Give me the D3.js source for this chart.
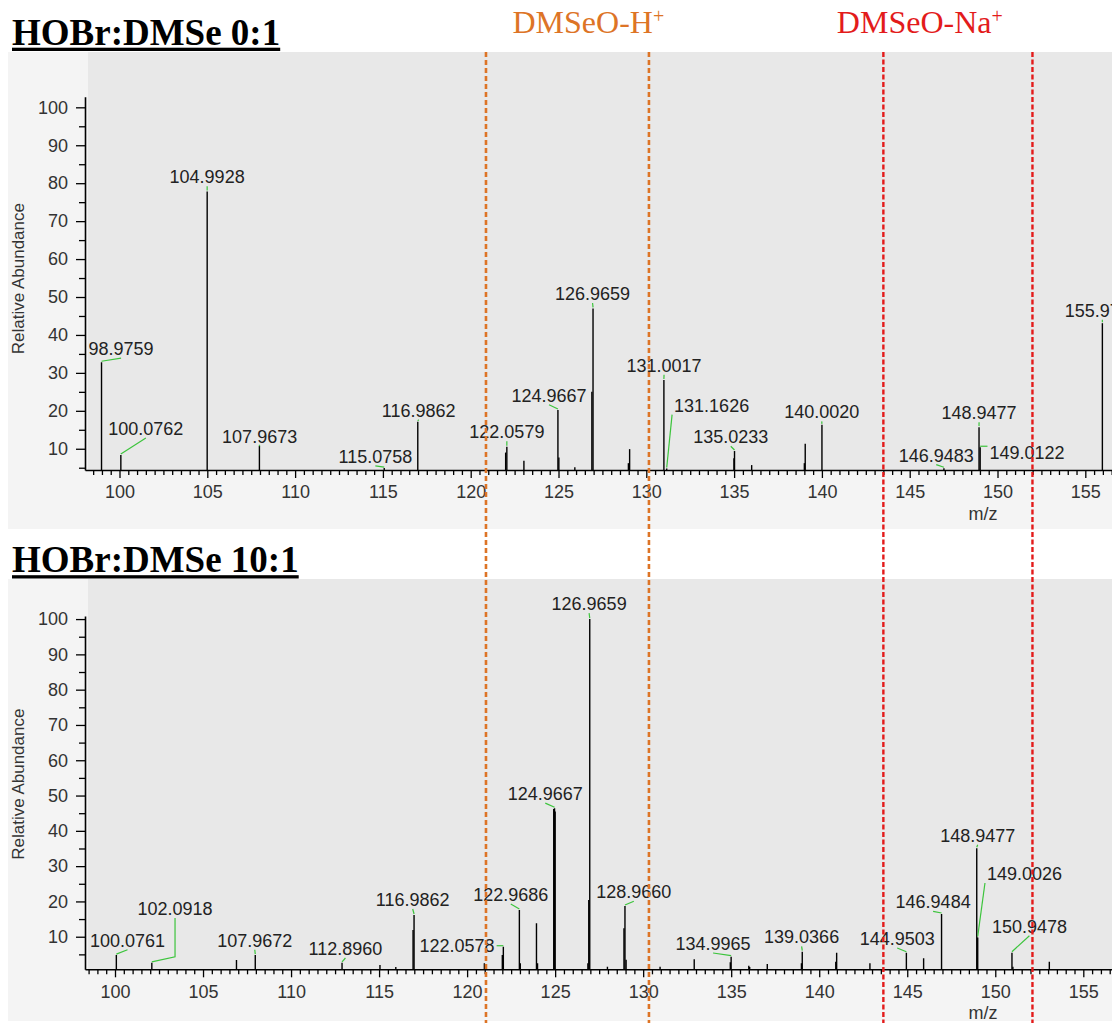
<!DOCTYPE html>
<html>
<head>
<meta charset="utf-8">
<script src="https://cdn.jsdelivr.net/npm/d3@7"></script>
<style>
  html, body { margin: 0; padding: 0; background: #fff; }
  svg { display: block; }
</style>
</head>
<body>
<svg id="fig" width="1112" height="1023"></svg>
<script>
// ---------- data ----------
// Panel titles
const titleLow = "HOBr:DMSe 0:1";
const titleHigh = "HOBr:DMSe 10:1";

// Ion windows (m/z) and their names
const windowH = [120.87, 130.15];
const windowNa = [143.50, 151.99];
const windowHName = "DMSeO-H";
const windowNaName = "DMSeO-Na";

// Axis ticks
const yMajorTicks = [10, 20, 30, 40, 50, 60, 70, 80, 90, 100];
const yMinorTicks = [5, 15, 25, 35, 45, 55, 65, 75, 85, 95];
const xMajorTicks = [100, 105, 110, 115, 120, 125, 130, 135, 140, 145, 150, 155];

// HOBr:DMSe 0:1 -- labelled centroids: m/z, relative abundance, label m/z, label abundance
const labelled01 = [
  { mz: 98.9759,  ab: 32.8, lx: 100.09, ly: 34.7 },
  { mz: 100.0762, ab: 8.35, lx: 101.50, ly: 13.6 },
  { mz: 104.9928, ab: 77.8, lx: 104.99, ly: 80.0 },
  { mz: 107.9673, ab: 10.8, lx: 107.98, ly: 11.45 },
  { mz: 115.0758, ab: 4.9,  lx: 114.57, ly: 6.3 },
  { mz: 116.9862, ab: 17.1, lx: 117.04, ly: 18.45 },
  { mz: 122.0579, ab: 10.5, lx: 122.06, ly: 12.75 },
  { mz: 124.9667, ab: 20.2, lx: 124.46, ly: 22.4 },
  { mz: 126.9659, ab: 47.0, lx: 126.94, ly: 49.2 },
  { mz: 131.0017, ab: 28.1, lx: 131.01, ly: 30.3 },
  { mz: 131.1626, ab: 4.8,  lx: 133.72, ly: 19.8 },
  { mz: 135.0233, ab: 9.4,  lx: 134.81, ly: 11.45 },
  { mz: 140.0020, ab: 16.3, lx: 139.99, ly: 18.0 },
  { mz: 146.9483, ab: 4.85, lx: 146.51, ly: 6.6 },
  { mz: 148.9477, ab: 15.7, lx: 148.95, ly: 17.8 },
  { mz: 149.0122, ab: 10.4, lx: 151.68, ly: 7.3 },
  { mz: 155.9717, ab: 43.1, lx: 155.97, ly: 44.8 }
];
// HOBr:DMSe 0:1 -- unlabelled centroids [m/z, relative abundance]
const other01 = [
  [121.99, 9.0], [123.03, 6.85], [125.02, 7.7], [125.93, 5.1], [126.90, 25.0],
  [128.98, 6.2], [129.05, 9.9], [134.99, 7.5], [136.00, 5.7], [139.00, 6.2], [139.05, 11.3]
];

// HOBr:DMSe 10:1 -- labelled centroids
const labelled101 = [
  { mz: 100.0761, ab: 4.8,   lx: 100.71, ly: 7.17 },
  { mz: 102.0918, ab: 2.6,   lx: 103.41, ly: 16.15 },
  { mz: 107.9672, ab: 4.8,   lx: 107.94, ly: 7.17 },
  { mz: 112.8960, ab: 2.6,   lx: 113.09, ly: 4.82 },
  { mz: 116.9862, ab: 16.15, lx: 116.91, ly: 18.7 },
  { mz: 122.0578, ab: 7.17,  lx: 119.43, ly: 5.76 },
  { mz: 122.9686, ab: 17.6,  lx: 122.48, ly: 20.1 },
  { mz: 124.9667, ab: 46.4,  lx: 124.44, ly: 48.7 },
  { mz: 126.9659, ab: 100.0, lx: 126.93, ly: 102.55 },
  { mz: 128.9660, ab: 18.7,  lx: 129.47, ly: 20.9 },
  { mz: 134.9965, ab: 4.34,  lx: 133.97, ly: 6.24 },
  { mz: 139.0366, ab: 5.76,  lx: 139.00, ly: 8.13 },
  { mz: 144.9503, ab: 5.47,  lx: 144.43, ly: 7.65 },
  { mz: 146.9484, ab: 16.44, lx: 146.47, ly: 18.05 },
  { mz: 148.9477, ab: 35.05, lx: 149.00, ly: 36.9 },
  { mz: 149.0026, ab: 9.8,   lx: 151.66, ly: 26.07 },
  { mz: 150.9478, ab: 5.47,  lx: 151.94, ly: 11.14 }
];
// HOBr:DMSe 10:1 -- unlabelled centroids
const other101 = [
  [106.90, 3.4], [115.05, 2.0], [115.95, 1.4], [116.93, 11.9], [120.98, 2.5],
  [122.00, 4.8], [123.02, 2.5], [123.94, 13.8], [124.00, 2.5], [124.92, 46.2],
  [125.00, 45.5], [126.86, 2.5], [126.91, 20.4], [127.97, 1.5], [128.91, 12.4],
  [129.03, 3.5], [130.96, 1.5], [132.90, 3.6], [134.95, 2.8], [136.00, 1.8],
  [136.05, 1.4], [137.05, 2.3], [138.99, 2.5], [140.94, 2.9], [140.99, 5.47],
  [142.88, 2.5], [145.93, 3.9], [151.00, 1.5], [153.07, 2.9]
];

// ---------- drawing ----------
const svg = d3.select("#fig");
const SANS = "'Liberation Sans', Arial, sans-serif";
const SERIF = "'Liberation Serif', 'Times New Roman', serif";
const PLOT_LEFT = 85, PLOT_RIGHT = 1112;

const panels = [
  { title: titleLow, labelled: labelled01, other: other01,
    top: 52, bottom: 529, axisY: 470, yTop: 96.7, yDom: [4.4, 102.8],
    xDom: [98.035, 156.52], titleBase: 44.5 },
  { title: titleHigh, labelled: labelled101, other: other101,
    top: 579, bottom: 1021, axisY: 969.3, yTop: 615.9, yDom: [0.77, 100.9],
    xDom: [98.296, 156.63], titleBase: 572 }
];

let xFirst = null;

panels.forEach((p, i) => {
  const g = svg.append("g").attr("class", "panel");

  // panel backgrounds
  g.append("rect").attr("x", 8).attr("y", p.top).attr("width", 1104).attr("height", p.bottom - p.top)
    .attr("fill", "#f4f4f4");
  g.append("rect").attr("x", 88).attr("y", p.top).attr("width", 1024).attr("height", p.axisY - p.top)
    .attr("fill", "#e8e8e8");

  // title with underline
  const t = svg.append("text").attr("x", 12).attr("y", p.titleBase)
    .attr("font-family", SERIF).attr("font-weight", "bold").attr("font-size", 37)
    .attr("fill", "#000").text(p.title);
  const tw = t.node().getComputedTextLength();
  svg.append("rect").attr("x", 12).attr("y", p.titleBase + 3.2).attr("width", tw).attr("height", 3.3)
    .attr("fill", "#000");

  const x = d3.scaleLinear().domain(p.xDom).range([PLOT_LEFT, PLOT_RIGHT]);
  const y = d3.scaleLinear().domain(p.yDom).range([p.axisY, p.yTop]);
  if (i === 0) xFirst = x;

  const clipId = "clip" + i;
  svg.append("clipPath").attr("id", clipId).append("rect")
    .attr("x", PLOT_LEFT).attr("y", p.top).attr("width", PLOT_RIGHT - PLOT_LEFT).attr("height", p.axisY - p.top);

  // centroid sticks
  const sticks = p.labelled.map(d => [d.mz, d.ab]).concat(p.other);
  g.append("g").attr("clip-path", `url(#${clipId})`)
    .selectAll("line").data(sticks).join("line")
    .attr("x1", d => x(d[0])).attr("x2", d => x(d[0]))
    .attr("y1", y(p.yDom[0])).attr("y2", d => y(d[1]))
    .attr("stroke", "#000").attr("stroke-width", 1.4);

  // peak labels and leader lines
  const lab = g.append("g");
  p.labelled.forEach(d => {
    const cx = x(d.lx), by = y(d.ly);
    const txt = lab.append("text").attr("x", cx).attr("y", by)
      .attr("text-anchor", "middle").attr("font-family", SANS).attr("font-size", 18)
      .attr("fill", "#222").text(d.mz.toFixed(4));
    const w = txt.node().getComputedTextLength();
    const left = cx - w / 2, right = cx + w / 2;
    const px = x(d.mz), py = y(d.ab) - 1;
    const pts = [[px, py]];
    if (px >= left && px <= right) {
      // label sits over the peak: lead to the middle of its underside
      const ey = by + 3;
      if (py - ey > 30 && Math.abs(cx - px) > 10) pts.push([cx, py - 5]);
      pts.push([cx, ey]);
    } else {
      // label beside the peak: lead to the nearest point of its box
      pts.push([Math.max(left - 2, Math.min(right + 2, px)),
                Math.max(by - 15, Math.min(by + 3, py))]);
    }
    lab.append("path").attr("d", d3.line()(pts)).attr("fill", "none")
      .attr("stroke", "#3cc43c").attr("stroke-width", 1.2);
  });

  // x axis: major ticks with labels, then minor ticks
  const gx = g.append("g").attr("transform", `translate(0,${p.axisY})`)
    .call(d3.axisBottom(x).tickValues(xMajorTicks).tickSize(8).tickSizeOuter(0).tickPadding(7.5));
  const minorX = d3.range(98.5, 156.6, 0.5).filter(v => v % 5 !== 0 && v > p.xDom[0] && v < p.xDom[1]);
  const gxm = g.append("g").attr("transform", `translate(0,${p.axisY})`)
    .call(d3.axisBottom(x).tickValues(minorX).tickSize(5).tickFormat(""));
  gxm.select(".domain").remove();

  // y axis: major ticks with labels, then minor ticks
  const gy = g.append("g").attr("transform", `translate(${PLOT_LEFT},0)`)
    .call(d3.axisLeft(y).tickValues(yMajorTicks).tickSize(9).tickSizeOuter(0).tickPadding(8));
  const gym = g.append("g").attr("transform", `translate(${PLOT_LEFT},0)`)
    .call(d3.axisLeft(y).tickValues(yMinorTicks).tickSize(6).tickFormat(""));
  gym.select(".domain").remove();

  [gx, gxm, gy, gym].forEach(a => {
    a.attr("font-family", SANS).attr("font-size", 18);
    a.selectAll(".domain").attr("stroke", "#000").attr("stroke-width", 1.6);
    a.selectAll(".tick line").attr("stroke", "#000").attr("stroke-width", 1.3);
    a.selectAll(".tick text").attr("fill", "#333");
  });

  // axis titles
  g.append("text").attr("transform", `translate(18,${(y(100) + p.axisY) / 2 - 10}) rotate(-90)`)
    .attr("text-anchor", "middle").attr("dominant-baseline", "central")
    .attr("font-family", SANS).attr("font-size", 17).attr("fill", "#333")
    .text("Relative Abundance");
  g.append("text").attr("x", 983).attr("y", p.axisY + 50)
    .attr("text-anchor", "middle").attr("font-family", SANS).attr("font-size", 18)
    .attr("fill", "#333").text("m/z");
});

// ion windows spanning both spectra
const winG = svg.append("g");
const drawWindow = (bounds, color, width, dash) => {
  winG.selectAll(null).data(bounds).join("line")
    .attr("x1", d => xFirst(d)).attr("x2", d => xFirst(d))
    .attr("y1", 52).attr("y2", 1023)
    .attr("stroke", color).attr("stroke-width", width).attr("stroke-dasharray", dash);
};
drawWindow(windowH, "#dd7426", 2.6, "5,3");
drawWindow(windowNa, "#e31b1b", 2.4, "5,2.5");

const ionLabel = (name, xStart, color) => {
  const t = svg.append("text").attr("x", xStart).attr("y", 33)
    .attr("font-family", SERIF).attr("font-size", 32).attr("fill", color);
  t.append("tspan").text(name);
  t.append("tspan").attr("font-size", 20).attr("dy", -10).text("+");
};
ionLabel(windowHName, xFirst(windowH[0]) + 26.5, "#dd7426");
ionLabel(windowNaName, xFirst(windowNa[0]) - 46.5, "#e31b1b");
</script>
</body>
</html>
